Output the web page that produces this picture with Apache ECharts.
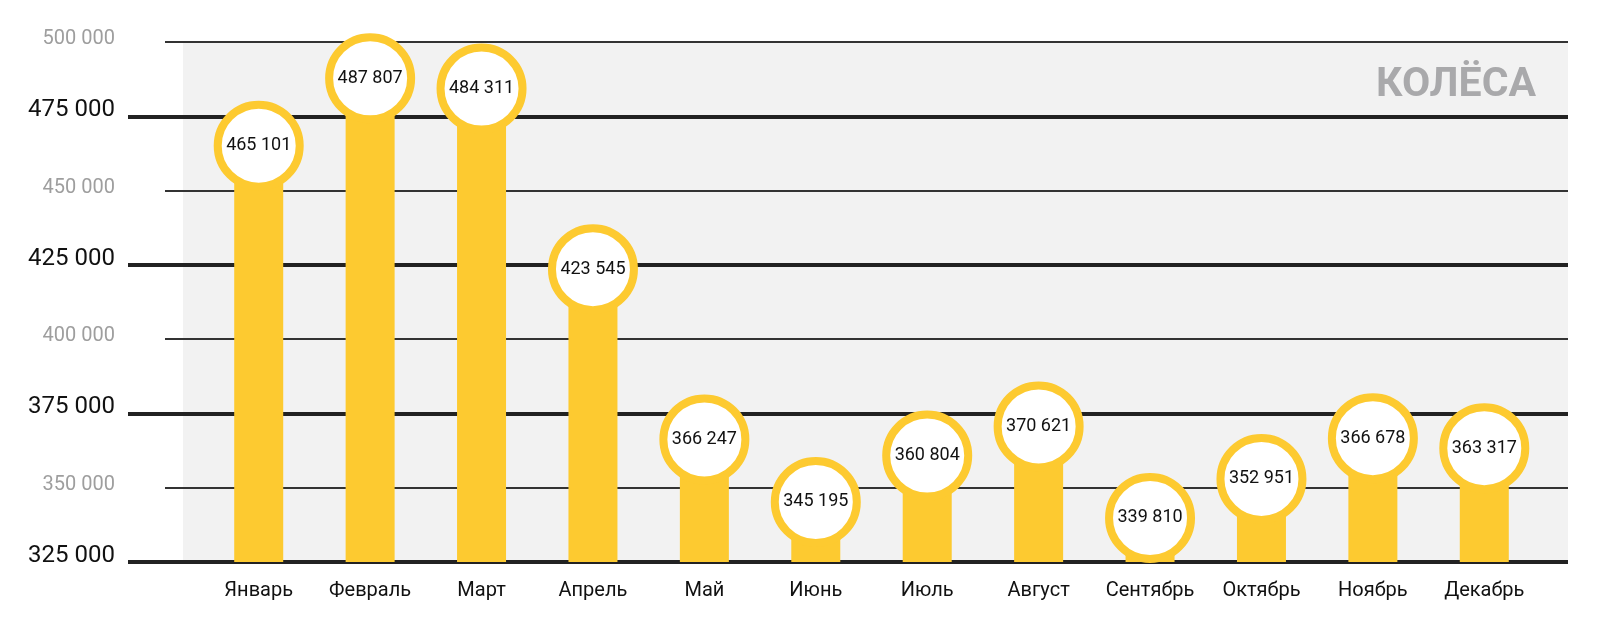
<!DOCTYPE html>
<html>
<head>
<meta charset="utf-8">
<script src="https://cdn.jsdelivr.net/npm/echarts@6/dist/echarts.min.js"></script>
<style>
html,body{margin:0;padding:0;background:#fff;}
#chart{width:1599px;height:641px;}
</style>
</head>
<body>
<div id="chart"></div>
<script>
const months = ['Январь','Февраль','Март','Апрель','Май','Июнь','Июль','Август','Сентябрь','Октябрь','Ноябрь','Декабрь'];
const values = [465101, 487807, 484311, 423545, 366247, 345195, 360804, 370621, 339810, 352951, 366678, 363317];
const yMin = 325000;
const yMax = 500000;
const yStep = 25000;
const logoText = 'КОЛЁСА';

const YELLOW = '#fdca30';
const fmt = v => String(v).replace(/\B(?=(\d{3})+(?!\d))/g, ' ');
const TOP = 42, BOTTOM = 79;

const chart = echarts.init(document.getElementById('chart'), null, {renderer:'canvas'});

const baseY = (gi) => ({
  gridIndex: gi, type: 'value', min: yMin, max: yMax, interval: yStep,
  axisLine: {show:false}, axisTick: {show:false}
});

chart.setOption({
  animation: false,
  backgroundColor: '#ffffff',
  title: {
    text: logoText, right: 58, top: 60,
    textStyle: {fontFamily: 'Roboto', fontWeight: 'bold', fontSize: 41, color: '#a9a9ab'}
  },
  grid: [
    {left: 183, right: 31, top: TOP, bottom: BOTTOM, show: true, backgroundColor: '#f2f2f2', borderWidth: 0},
    {left: 128, right: 31, top: TOP, bottom: BOTTOM},
    {left: 165, right: 31, top: TOP, bottom: BOTTOM},
    {left: 203, right: 59, top: TOP, bottom: BOTTOM}
  ],
  xAxis: [
    {gridIndex: 0, type: 'value', show: false},
    {gridIndex: 1, type: 'value', show: false},
    {gridIndex: 2, type: 'value', show: false},
    {gridIndex: 3, type: 'category', data: months,
      axisLine: {show:false}, axisTick: {show:false},
      axisLabel: {interval: 0, fontFamily: 'Roboto', fontSize: 20, color: '#111', margin: 19}}
  ],
  yAxis: [
    Object.assign(baseY(0), {show: false}),
    Object.assign(baseY(1), {
      splitLine: {show: true, lineStyle: {color: ['#222222', 'rgba(0,0,0,0)'], width: 4}},
      axisLabel: {
        fontFamily: 'Roboto', fontSize: 24, color: '#111', margin: 13,
        verticalAlign: 'bottom', lineHeight: 12,
        formatter: v => ((v / yStep) % 2 === 1 ? fmt(v) : '')
      }
    }),
    Object.assign(baseY(2), {
      splitLine: {show: true, lineStyle: {color: ['rgba(0,0,0,0)', '#333333'], width: 2}},
      axisLabel: {
        fontFamily: 'Roboto', fontSize: 20, color: '#9e9e9e', margin: 50,
        verticalAlign: 'bottom', lineHeight: 6,
        formatter: v => ((v / yStep) % 2 === 0 ? fmt(v) : '')
      }
    }),
    Object.assign(baseY(3), {show: false, splitLine: {show: false}})
  ],
  series: [
    {
      type: 'bar', xAxisIndex: 3, yAxisIndex: 3, data: values,
      barWidth: 49, itemStyle: {color: YELLOW}
    },
    {
      type: 'scatter', xAxisIndex: 3, yAxisIndex: 3, data: values,
      symbol: 'circle', symbolSize: 82,
      itemStyle: {color: '#ffffff', borderColor: YELLOW, borderWidth: 8, opacity: 1},
      label: {
        show: true, position: 'inside', formatter: p => fmt(p.value),
        fontFamily: 'Roboto', fontSize: 18, color: '#111'
      },
      emphasis: {disabled: true},
      clip: false
    }
  ]
});
</script>
</body>
</html>
